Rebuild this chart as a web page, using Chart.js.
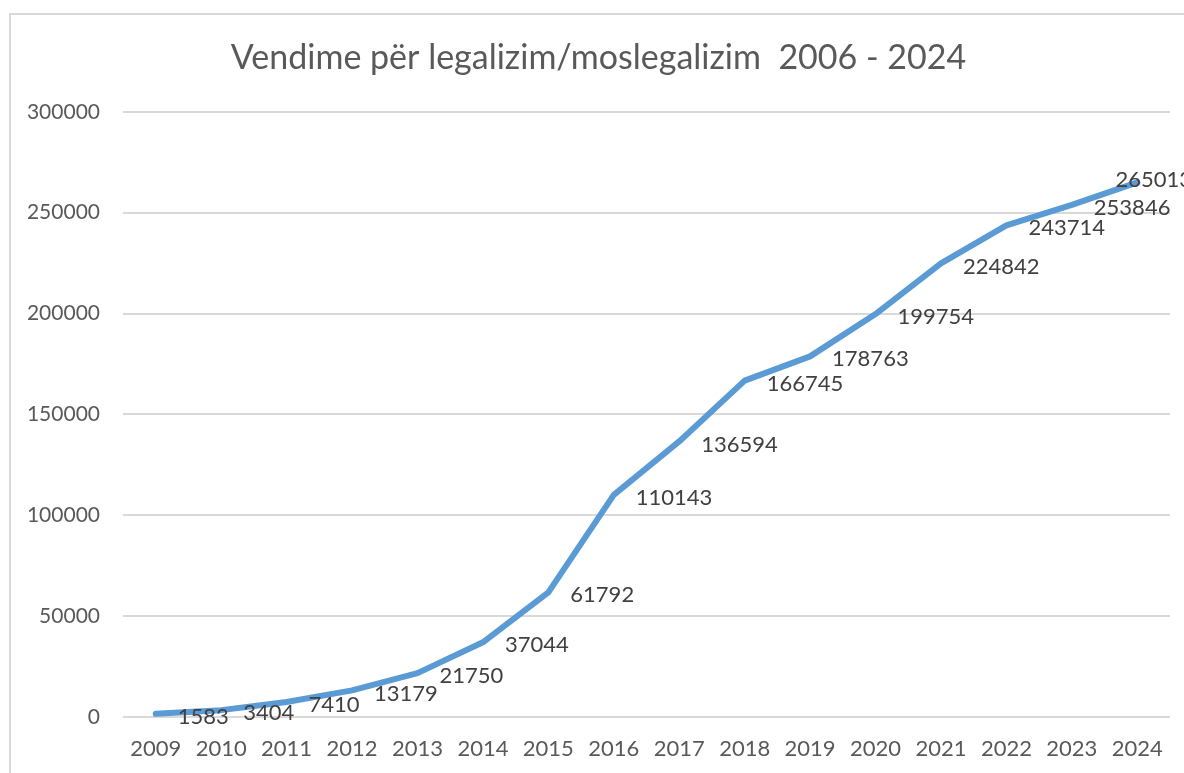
<!DOCTYPE html>
<html>
<head>
<meta charset="utf-8">
<script src="https://cdn.jsdelivr.net/npm/chart.js@4.4.1/dist/chart.umd.min.js"></script>
<style>
  html, body { margin: 0; padding: 0; background: #fff; overflow: hidden; }
  #frame { position: absolute; left: 9px; top: 13px; width: 1300px; height: 900px; border: 2px solid #d9d9d9; }
  #wrap { position: absolute; left: 0; top: 0; width: 1184px; height: 773px; }
</style>
</head>
<body>
<div id="frame"></div>
<div id="wrap"><canvas id="chart"></canvas></div>
<script>
const years = ['2009', '2010', '2011', '2012', '2013', '2014', '2015', '2016',
               '2017', '2018', '2019', '2020', '2021', '2022', '2023', '2024'];
const vendime = [1583, 3404, 7410, 13179, 21750, 37044, 61792, 110143,
                 136594, 166745, 178763, 199754, 224842, 243714, 253846, 265013];
const yTicks = [0, 50000, 100000, 150000, 200000, 250000, 300000];

// data labels to the right of each point (Excel style), pushed back left at the edge
const pointLabels = {
    id: 'pointLabels',
    afterDatasetsDraw(chart) {
        const ctx = chart.ctx;
        const meta = chart.getDatasetMeta(0);
        ctx.save();
        ctx.font = '22px Lato';
        ctx.fillStyle = '#404040';
        ctx.textAlign = 'left';
        ctx.textBaseline = 'middle';
        meta.data.forEach((pt, i) => {
            const txt = String(vendime[i]);
            const w = ctx.measureText(txt).width;
            let x = pt.x + 22, y = pt.y + 3;
            if (x + w > chart.width + 8) {
                x = chart.width + 8 - w;
                y = pt.y - 2;
            }
            ctx.fillText(txt, x, y);
        });
        ctx.restore();
    }
};

new Chart(document.getElementById('chart'), {
    type: 'line',
    data: {
        labels: years,
        datasets: [{
            label: 'Vendime',
            data: vendime,
            borderColor: '#5b9bd5',
            borderWidth: 6,
            borderCapStyle: 'round',
            borderJoinStyle: 'round',
            pointRadius: 0,
            tension: 0
        }]
    },
    options: {
        responsive: true,
        maintainAspectRatio: false,
        animation: false,
        layout: { padding: { left: 27, right: 14, top: 0, bottom: 0 } },
        scales: {
            x: {
                offset: true,
                afterFit: (axis) => { axis.height = 56; },
                grid: { display: false },
                border: { display: false },
                ticks: { color: '#595959', font: { family: 'Lato', size: 22 }, padding: 11, maxRotation: 0 }
            },
            y: {
                min: 0,
                max: 300000,
                afterBuildTicks: (axis) => { axis.ticks = yTicks.map(v => ({ value: v })); },
                afterFit: (axis) => { axis.width = 96; },
                grid: { color: '#d9d9d9', lineWidth: 2, drawTicks: false },
                border: { display: false },
                ticks: {
                    color: '#595959',
                    font: { family: 'Lato', size: 21 },
                    padding: 23,
                    callback: (v) => String(v)
                }
            }
        },
        plugins: {
            legend: { display: false },
            tooltip: { enabled: false },
            title: {
                display: true,
                text: 'Vendime për legalizim/moslegalizim  2006 - 2024',
                color: '#595959',
                font: { family: 'Lato', size: 34, weight: 'normal' },
                padding: { top: 38, bottom: 33 }
            }
        }
    },
    plugins: [pointLabels]
});
</script>
</body>
</html>
